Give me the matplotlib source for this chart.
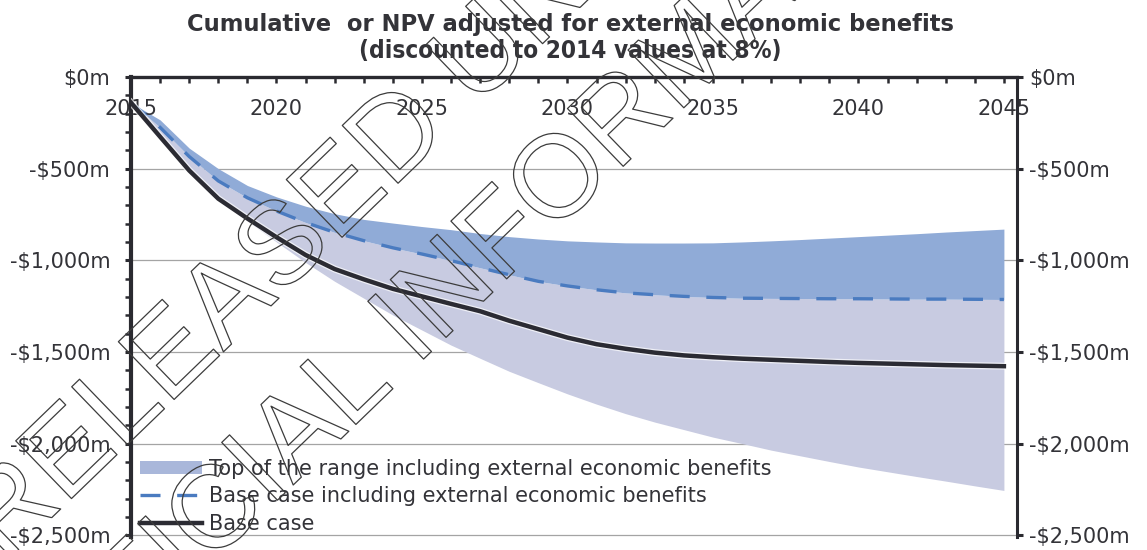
import matplotlib.pyplot as plt
import matplotlib.patheffects as pe
from matplotlib.patches import Patch
from matplotlib.lines import Line2D

years = list(range(2015, 2046))

# Cumulative NPV, $m (discounted to 2014 values at 8%)
base_case = [-140, -326, -510, -664, -772, -874, -971, -1048, -1104, -1156, -1197,
             -1238, -1278, -1330, -1376, -1422, -1458, -1483, -1504, -1519, -1529,
             -1537, -1543, -1549, -1555, -1560, -1564, -1568, -1572, -1575, -1578]
base_case_ext = [-140, -275, -434, -567, -659, -731, -794, -848, -893, -932, -966,
                 -1002, -1041, -1079, -1115, -1140, -1161, -1178, -1188, -1197, -1203,
                 -1207, -1208, -1209, -1210, -1210, -1211, -1212, -1212, -1213, -1214]
range_top = [-140, -234, -388, -500, -592, -654, -705, -746, -777, -797, -816,
             -833, -854, -871, -884, -894, -900, -905, -906, -906, -905,
             -900, -894, -887, -879, -871, -863, -855, -846, -838, -830]
range_low = [-140, -326, -521, -674, -787, -900, -1012, -1115, -1207, -1299, -1381,
             -1463, -1535, -1606, -1668, -1729, -1785, -1837, -1883, -1924, -1965,
             -2000, -2036, -2067, -2098, -2128, -2154, -2180, -2205, -2231, -2256]

x_ticks = [2015, 2020, 2025, 2030, 2035, 2040, 2045]
y_ticks = [-2500, -2000, -1500, -1000, -500, 0]
y_tick_labels = ['-$2,500m', '-$2,000m', '-$1,500m', '-$1,000m', '-$500m', '$0m']

legend_labels = ['Top of the range including external economic benefits',
                 'Base case including external economic benefits',
                 'Base case']

txt = '#333338'
axis_col = '#2a2a30'
blue_fill = '#90abd7'
lav_fill = '#c8cbe1'
dash_col = '#4a7bc0'

plt.rcParams['font.family'] = 'DejaVu Sans'

fig = plt.figure(figsize=(11.47, 5.5), dpi=100)
ax = fig.add_axes([131 / 1147, 13 / 550, 886 / 1147, 460 / 550])

# shaded range: lower part (lavender) and upper part (blue)
ax.fill_between(years, base_case_ext, range_low, color=lav_fill, lw=0, zorder=1)
ax.fill_between(years, range_top, base_case_ext, color=blue_fill, lw=0, zorder=1)

ax.plot(years, base_case_ext, color=dash_col, lw=2.4, dashes=(6, 5), zorder=3)
ax.plot(years, base_case, color='#2b2b33', lw=3.2, zorder=4,
        path_effects=[pe.Stroke(linewidth=5.0, foreground='white', alpha=0.7), pe.Normal()])

ax.set_xlim(2015, 2045.45)
ax.set_ylim(-2510, 0)

for g in y_ticks[:-1]:
    ax.axhline(g, color='#a4a4a4', lw=0.9, zorder=0.5)

# x axis along the top, labels sitting inside the plot
ax.set_xticks(x_ticks)
ax.set_xticks(years, minor=True)
ax.tick_params(axis='x', which='both', top=True, bottom=False, labeltop=True,
               labelbottom=False, direction='in', width=1.8, color=axis_col)
ax.tick_params(axis='x', which='major', length=4, pad=-30, labelsize=15, labelcolor=txt)
ax.tick_params(axis='x', which='minor', length=4)

# left axis with minor ticks
ax.set_yticks(y_ticks)
ax.set_yticklabels(y_tick_labels)
ax.set_yticks(range(-2500, 1, 100), minor=True)
ax.tick_params(axis='y', which='major', left=True, right=False, labelright=False,
               direction='out', length=4, width=2.2, color=axis_col,
               labelsize=15, labelcolor=txt, pad=11)
ax.tick_params(axis='y', which='minor', left=True, right=False, direction='out',
               length=4, width=1.8, color=axis_col)

# right axis, major ticks only
ax2 = ax.twinx()
ax2.set_ylim(ax.get_ylim())
ax2.set_yticks(y_ticks)
ax2.set_yticklabels(y_tick_labels)
ax2.tick_params(axis='y', direction='out', length=4, width=2.2, color=axis_col,
                labelsize=15, labelcolor=txt, pad=5)
for s in ['top', 'bottom', 'left']:
    ax2.spines[s].set_visible(False)
ax2.spines['right'].set_linewidth(2.2)
ax2.spines['right'].set_color(axis_col)

ax.spines['bottom'].set_visible(False)
ax.spines['right'].set_visible(False)
ax.spines['top'].set_linewidth(2.4)
ax.spines['left'].set_linewidth(3.0)
for s in ['top', 'left']:
    ax.spines[s].set_color(axis_col)

handles = [Patch(facecolor='#a9b7da', edgecolor='none'),
           Line2D([], [], color=dash_col, lw=2.4, dashes=(6, 5)),
           Line2D([], [], color='#2b2b33', lw=3.2)]
leg = ax.legend(handles, legend_labels, loc='lower left', bbox_to_anchor=(0.010, 0.007),
                frameon=False, fontsize=15, handlelength=3.0, handleheight=0.55,
                handletextpad=0.3, labelspacing=0.36, borderpad=0, borderaxespad=0)
for t in leg.get_texts():
    t.set_color(txt)

fig.text(0.497, 0.956, 'Cumulative  or NPV adjusted for external economic benefits',
         ha='center', va='center', fontsize=16.3, fontweight='bold', color=txt)
fig.text(0.497, 0.907, '(discounted to 2014 values at 8%)',
         ha='center', va='center', fontsize=17.5, fontweight='bold',
         fontstretch='condensed', color=txt)

# outlined release stamp across the chart
stamp = dict(fontsize=84, family='Liberation Sans', color='none', rotation=44,
             rotation_mode='anchor', ha='left', va='baseline', zorder=10,
             path_effects=[pe.Stroke(linewidth=0.9, foreground='#3c3c3c')])
fig.text(4 / 1147, -0.025, 'RELEASED UNDER THE', **stamp)
fig.text(18 / 1147, -0.365, 'OFFICIAL INFORMATION ACT', **stamp)

fig.savefig('out.png', dpi=100)
